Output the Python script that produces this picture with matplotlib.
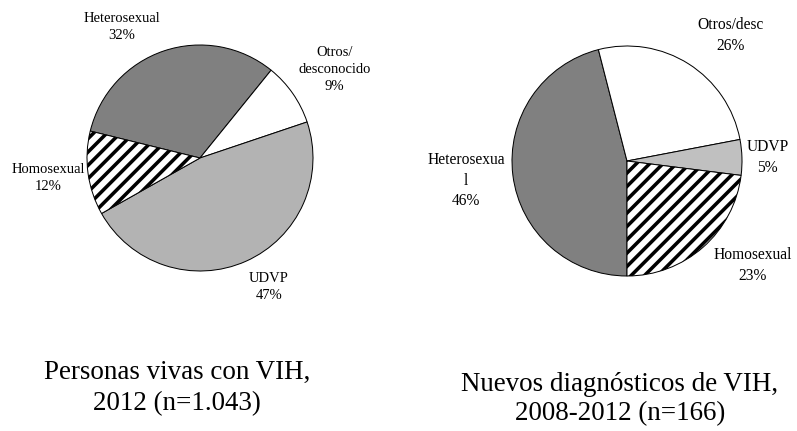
import matplotlib.pyplot as plt

plt.rcParams['font.family'] = ['Liberation Serif', 'DejaVu Serif']
plt.rcParams['hatch.linewidth'] = 3.2

# datos: personas vivas con VIH, 2012
izq_cat = ['Heterosexual', 'Otros/\ndesconocido', 'UDVP', 'Homosexual']
izq_val = [32, 9, 47, 12]
izq_titulo = 'Personas vivas con VIH,\n2012 (n=1.043)'

# datos: nuevos diagnosticos 2008-2012
der_cat = ['Heterosexua\nl', 'Otros/desc', 'UDVP', 'Homosexual']
der_val = [46, 26, 5, 23]
der_titulo = 'Nuevos diagnósticos de VIH,\n2008-2012 (n=166)'

W, H = 797, 431
DPI = 80
fig = plt.figure(figsize=(W / DPI, H / DPI), dpi=DPI)
fig.patch.set_facecolor('white')

LIM = 1.02


def caja(cx, cy, r):
    # rectangulo de ejes (fraccion de figura) a partir del centro y radio en pixeles
    r = r * LIM
    return [(cx - r) / W, 1 - (cy + r) / H, 2 * r / W, 2 * r / H]


def tarta(pos, valores, categorias, colores, inicio, pos_etiq, fs):
    ax = fig.add_axes(pos)
    wedges, _ = ax.pie(valores, colors=colores, startangle=inicio, counterclock=False,
                       wedgeprops=dict(edgecolor='black', linewidth=0.9))
    for w, c in zip(wedges, categorias):
        if c.startswith('Homo'):
            w.set_hatch('//')
    ax.set_xlim(-LIM, LIM)
    ax.set_ylim(-LIM, LIM)
    ax.set_aspect('equal')
    ax.axis('off')
    for c, v, (x, y) in zip(categorias, valores, pos_etiq):
        ax.text(x, y, f'{c}\n{v}%', ha='center', va='center', fontsize=fs,
                linespacing=1.4, clip_on=False)
    return ax


colores_izq = ['#808080', 'white', '#b3b3b3', 'white']
colores_der = ['#808080', 'white', '#c0c0c0', 'white']

etiq_izq = [(-0.69, 1.16), (1.19, 0.78), (0.61, -1.14), (-1.34, -0.18)]
etiq_der = [(-1.40, -0.17), (0.90, 1.09), (1.22, 0.03), (1.09, -0.91)]

tarta(caja(200, 158, 113), izq_val, izq_cat, colores_izq, 166.2, etiq_izq, 13.2)
tarta(caja(627, 161, 115), der_val, der_cat, colores_der, 270, etiq_der, 14)

fig.text(177 / W, 1 - 388 / H, izq_titulo, ha='center', va='center', fontsize=24.3, linespacing=1.3)
fig.text(620 / W, 1 - 399 / H, der_titulo, ha='center', va='center', fontsize=24.3, linespacing=1.2)

fig.savefig('out.png', dpi=DPI)
